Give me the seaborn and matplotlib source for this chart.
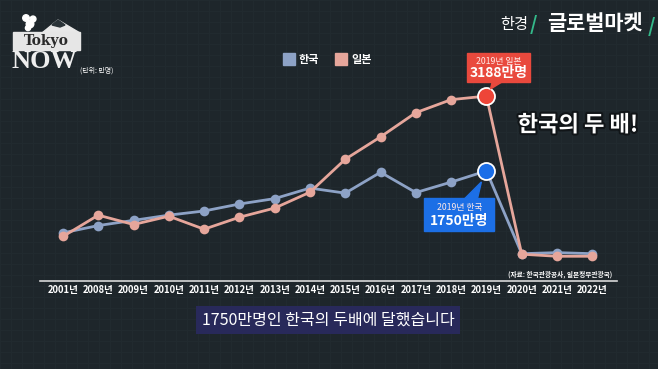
import matplotlib
matplotlib.use('Agg')
import matplotlib.pyplot as plt
import matplotlib.patheffects as pe
from matplotlib.patches import Rectangle, Polygon
from matplotlib.transforms import ScaledTranslation
import numpy as np
import pandas as pd
import seaborn as sns

# data (만명)
years = ['2001년', '2008년', '2009년', '2010년', '2011년', '2012년', '2013년', '2014년',
         '2015년', '2016년', '2017년', '2018년', '2019년', '2020년', '2021년', '2022년']
korea = [560, 700, 800, 900, 980, 1114, 1218, 1420, 1323, 1724, 1334, 1535, 1750, 160, 180, 160]
japan = [490, 900, 720, 880, 630, 860, 1036, 1341, 1974, 2404, 2869, 3119, 3188, 150, 110, 110]
series = ['한국', '일본']
colors = {'한국': '#8da2c6', '일본': '#e6a69b'}

sns.set_theme(style='dark')
plt.rcParams['font.family'] = ['Noto Sans CJK KR', 'DejaVu Sans']

bg = '#1e262b'
fig = plt.figure(figsize=(6.58, 3.69), dpi=100)
fig.patch.set_facecolor(bg)

# faint grid texture over the whole frame
bga = fig.add_axes([0, 0, 1, 1])
bga.set_xlim(0, 658)
bga.set_ylim(369, 0)
bga.set_facecolor(bg)
for v in np.arange(0, 659, 11):
    bga.axvline(v, color='#222b30', lw=0.6, zorder=0)
for v in np.arange(0, 370, 11):
    bga.axhline(v, color='#222b30', lw=0.6, zorder=0)
bga.axis('off')

ax = fig.add_axes([40 / 658, 88 / 369, 577 / 658, 241 / 369])
ax.set_facecolor('none')

pos = np.arange(len(years))
df = pd.DataFrame({
    'pos': np.concatenate([pos, pos]),
    'value': korea + japan,
    'country': [series[0]] * len(years) + [series[1]] * len(years),
})

sns.lineplot(data=df, x='pos', y='value', hue='country', palette=colors,
             marker='o', markersize=7, markeredgewidth=0, linewidth=2.0,
             legend=False, ax=ax)

i19 = years.index('2019년')
ax.scatter([i19], [japan[i19]], s=150, color='#ee4538', edgecolor='white', linewidth=1.3, zorder=5)
ax.scatter([i19], [korea[i19]], s=150, color='#1a6ee8', edgecolor='white', linewidth=1.3, zorder=5)

ax.set_xlim(-0.65, 15.7)
ax.set_ylim(-365, 4265)
ax.set_xticks(pos)
ax.set_xticklabels(years, color='white', fontsize=6.8, fontweight='bold')
ax.set_yticks([])
ax.set_xlabel('')
ax.set_ylabel('')
ax.tick_params(axis='x', length=0, pad=3)
for s in ['top', 'left', 'right']:
    ax.spines[s].set_visible(False)
ax.spines['bottom'].set_color('#d8d8d8')
ax.spines['bottom'].set_linewidth(1.2)
ax.grid(False)

# callouts anchored to 2019 points (offsets in inches)
def callout(val, box, tail, small, big, color):
    tr = fig.dpi_scale_trans + ScaledTranslation(i19, val, ax.transData)
    x0, y0, w, h = box
    ax.add_patch(Polygon(tail, closed=True, transform=tr, color=color, zorder=6, clip_on=False))
    ax.add_patch(Rectangle((x0, y0), w, h, transform=tr, color=color, zorder=6, clip_on=False))
    cx = x0 + w / 2
    ax.text(cx, y0 + h * 0.72, small, transform=tr, ha='center', va='center',
            color='#ffe9e6', fontsize=6.3, zorder=7)
    ax.text(cx, y0 + h * 0.3, big, transform=tr, ha='center', va='center',
            color='white', fontsize=10, fontweight='bold', zorder=7)

callout(japan[i19], (-0.19, 0.14, 0.63, 0.29),
        [(0.06, 0.15), (0.17, 0.15), (0.04, 0.07)], '2019년 일본', '3188만명', '#e9493d')
callout(korea[i19], (-0.62, -0.60, 0.70, 0.33),
        [(-0.22, -0.28), (-0.09, -0.28), (-0.05, -0.11)], '2019년 한국', '1750만명', '#1c6fe6')

# legend
handles = [plt.Line2D([], [], marker='s', ls='', markersize=9, color=colors[s]) for s in series]
fig.legend(handles, series, loc='center', bbox_to_anchor=(0.497, 0.838), ncol=2,
           frameon=False, labelcolor='white', prop={'size': 8, 'weight': 'bold'},
           handletextpad=0.3, columnspacing=1.5, handlelength=1.1)

fig.text(578 / 658, 1 - 125 / 369, '한국의 두 배!', ha='center', va='center', color='white',
         fontsize=16, fontweight='bold',
         path_effects=[pe.withStroke(linewidth=3, foreground='#111518')])

fig.text(612 / 658, 1 - 274 / 369, '(자료: 한국관광공사, 일본정부관광국)', ha='right', va='center',
         color='white', fontsize=4.8, fontweight='bold')

# subtitle caption
fig.text(328 / 658, 1 - 320 / 369, '1750만명인 한국의 두배에 달했습니다', ha='center', va='center',
         color='white', fontsize=11.5,
         bbox=dict(boxstyle='square,pad=0.35', fc='#28295a', ec='none'))

# brand top right
fig.text(514 / 658, 1 - 24 / 369, '한경', ha='center', va='center', color='white', fontsize=11)
fig.text(533 / 658, 1 - 24 / 369, '/', ha='center', va='center', color='#34b98a',
         fontsize=14, fontweight='bold')
fig.text(595 / 658, 1 - 24 / 369, '글로벌마켓', ha='center', va='center', color='white',
         fontsize=15, fontweight='bold')
fig.text(651 / 658, 1 - 27 / 369, '/', ha='center', va='center', color='#34b98a',
         fontsize=14, fontweight='bold')

# Tokyo NOW logo top left
bga.add_patch(Polygon([(42, 33), (58, 20), (80, 33)], closed=True, color='#e8e8e8', zorder=3))
bga.add_patch(Polygon([(52, 25), (58, 20), (65, 25), (60, 27)], closed=True, color='#2a3338', zorder=3))
bga.scatter([26, 30, 33, 28], [18, 24, 19, 28], s=[22, 30, 18, 14], color='white', zorder=3)
bga.add_patch(Rectangle((13, 32), 67, 18, color='#e6e6e6', zorder=3))
bga.text(46, 41, 'Tokyo', ha='center', va='center', color='#2a2a2a', fontsize=10,
         fontweight='bold', family='DejaVu Serif', zorder=4)
bga.text(12, 62, 'NOW', ha='left', va='center', color='#eeeeee', fontsize=19,
         fontweight='bold', family='Liberation Serif', zorder=4)
bga.text(80, 71, '(단위: 만명)', ha='left', va='center', color='white', fontsize=5, zorder=4)

fig.savefig('out.png', dpi=100, facecolor=bg)
